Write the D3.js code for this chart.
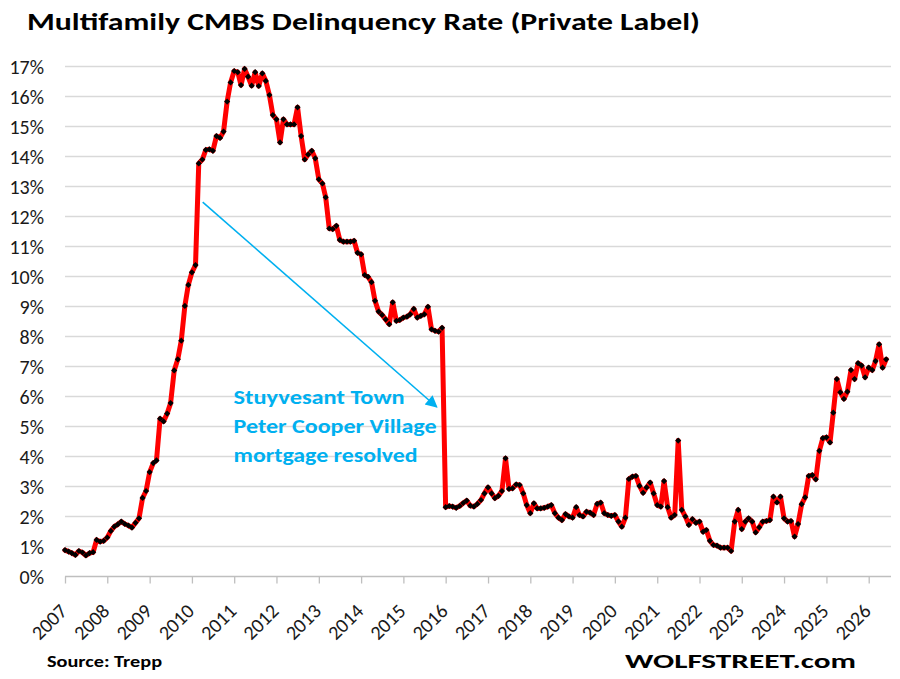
<!DOCTYPE html>
<html>
<head>
<meta charset="utf-8">
<script src="https://cdn.jsdelivr.net/npm/d3@7"></script>
<style>
  html, body { margin: 0; padding: 0; background: #fff; }
  svg { display: block; }
</style>
</head>
<body>
<svg id="chart" width="900" height="679"></svg>
<script>
// ---------------- DATA ----------------
const startYear = 2007;
const startMonth = 0; // January
const rates = [
  0.88,0.83,0.78,0.72,0.85,0.80,0.70,0.78,0.81,1.22,
  1.16,1.19,1.30,1.52,1.66,1.74,1.83,1.75,1.70,1.63,
  1.79,1.94,2.62,2.85,3.48,3.78,3.87,5.26,5.17,5.43,
  5.78,6.87,7.24,7.86,9.02,9.72,10.14,10.38,
  13.77,13.90,14.22,14.24,14.19,14.68,14.62,14.83,15.83,16.47,
  16.85,16.81,16.38,16.92,16.66,16.36,16.81,16.35,16.77,16.52,
  16.05,15.38,15.24,14.47,15.24,15.07,15.07,15.07,15.64,14.68,
  13.90,14.07,14.19,13.94,13.24,13.10,12.64,11.60,11.58,11.69,
  11.22,11.16,11.16,11.16,11.19,10.79,10.74,10.05,9.99,9.81,
  9.19,8.83,8.72,8.57,8.41,9.14,8.52,8.55,8.63,8.66,
  8.74,8.92,8.63,8.69,8.74,8.99,8.24,8.19,8.16,8.29,
  2.31,2.35,2.33,2.29,2.35,2.45,2.53,2.36,2.33,2.42,
  2.55,2.77,2.97,2.77,2.61,2.69,2.85,3.94,2.92,2.94,
  3.07,3.05,2.77,2.38,2.11,2.44,2.27,2.27,2.29,2.33,
  2.38,2.11,1.96,1.88,2.08,2.00,1.96,2.31,2.05,2.00,
  2.16,2.13,2.05,2.42,2.46,2.11,2.05,2.02,2.05,1.83,
  1.66,1.96,3.25,3.33,3.35,3.02,2.79,2.97,3.13,2.77,
  2.38,2.33,3.18,2.31,1.96,2.05,4.53,2.22,2.00,1.72,
  1.91,1.79,1.83,1.49,1.55,1.19,1.05,1.03,0.96,0.96,
  0.96,0.85,1.83,2.22,1.58,1.83,1.94,1.83,1.47,1.64,
  1.83,1.85,1.88,2.66,2.47,2.66,1.94,1.83,1.85,1.33,
  1.75,2.41,2.64,3.35,3.38,3.24,4.19,4.61,4.64,4.47,
  5.46,6.58,6.14,5.92,6.16,6.88,6.58,7.11,7.03,6.64,
  6.96,6.88,7.18,7.74,6.96,7.24
];
const yearLabels = ["2007","2008","2009","2010","2011","2012","2013","2014","2015","2016",
                    "2017","2018","2019","2020","2021","2022","2023","2024","2025","2026"];
const yTickValues = [0,1,2,3,4,5,6,7,8,9,10,11,12,13,14,15,16,17];
const titleText = "Multifamily CMBS Delinquency Rate (Private Label)";
const noteLines = ["Stuyvesant Town", "Peter Cooper Village", "mortgage resolved"];
// arrow annotation in data units: [monthIndex, percent]
const arrowStart = [39.1, 12.48];
const arrowEnd = [105.5, 5.65];
const noteAnchor = [47.9, 5.75];
const sourceText = "Source: Trepp";
const brandText = "WOLFSTREET.com";

// ---------------- CHART ----------------
const svg = d3.select("#chart");
const FONT = "Carlito, Calibri, Lato, 'Open Sans', sans-serif";

const data = rates.map((v, i) => ({ date: new Date(startYear, startMonth + i, 1), v }));

const x = d3.scaleTime()
  .domain([new Date(2007, 0, 1), new Date(2026, 0, 1)])
  .range([65, 868.7]);
const y = d3.scaleLinear().domain([0, 17]).range([576.5, 66.5]);
const monthDate = m => new Date(startYear, startMonth + Math.floor(m), 1 + (m % 1) * 30);

// gridlines
svg.append("g")
  .selectAll("line")
  .data(yTickValues.filter(d => d > 0))
  .join("line")
  .attr("x1", 65).attr("x2", 891)
  .attr("y1", d => y(d)).attr("y2", d => y(d))
  .attr("stroke", "#d9d9d9").attr("stroke-width", 1.6);

// y axis labels
const yAxis = d3.axisLeft(y).tickValues(yTickValues).tickFormat(d => d + "%").tickSize(0).tickPadding(0);
const gy = svg.append("g").attr("transform", "translate(44,0)").call(yAxis);
gy.select(".domain").remove();
gy.selectAll("text")
  .attr("font-family", FONT).attr("font-size", 20).attr("fill", "#1a1a1a")
  .attr("dy", "0.34em");

// x axis
const yearDates = yearLabels.map(s => new Date(+s, 0, 1));
const xAxis = d3.axisBottom(x).tickValues(yearDates).tickFormat(d3.timeFormat("%Y")).tickSize(7).tickSizeOuter(0);
const gx = svg.append("g").attr("transform", "translate(0,576.5)").call(xAxis);
gx.select(".domain").attr("stroke", "#bfbfbf").attr("stroke-width", 1.5)
  .attr("d", "M65,0H891");
gx.selectAll(".tick line").attr("stroke", "#bfbfbf").attr("stroke-width", 1.3);
gx.selectAll(".tick text")
  .attr("font-family", FONT).attr("font-size", 20).attr("fill", "#1a1a1a")
  .attr("text-anchor", "end")
  .attr("transform", "translate(-2,31) rotate(-45)")
  .attr("x", 0).attr("y", 0).attr("dy", "0.35em");

// line
const line = d3.line().x(d => x(d.date)).y(d => y(d.v));
svg.append("path")
  .datum(data)
  .attr("fill", "none")
  .attr("stroke", "#ff0000")
  .attr("stroke-width", 5)
  .attr("stroke-linejoin", "round")
  .attr("stroke-linecap", "round")
  .attr("d", line);

// markers
const sym = d3.symbol().type(d3.symbolSquare).size(19);
svg.append("g")
  .selectAll("path")
  .data(data)
  .join("path")
  .attr("d", sym)
  .attr("transform", d => `translate(${x(d.date)},${y(d.v)}) rotate(45)`)
  .attr("fill", "#000");

// arrow annotation
const defs = svg.append("defs");
defs.append("marker")
  .attr("id", "ah").attr("viewBox", "0 0 10 10")
  .attr("refX", 9).attr("refY", 5)
  .attr("markerWidth", 14).attr("markerHeight", 12)
  .attr("markerUnits", "userSpaceOnUse")
  .attr("orient", "auto")
  .append("path").attr("d", "M0,0 L10,5 L0,10 z").attr("fill", "#00b0f0");

svg.append("line")
  .attr("x1", x(monthDate(arrowStart[0]))).attr("y1", y(arrowStart[1]))
  .attr("x2", x(monthDate(arrowEnd[0]))).attr("y2", y(arrowEnd[1]))
  .attr("stroke", "#00b0f0").attr("stroke-width", 1.6)
  .attr("marker-end", "url(#ah)");

const noteX = x(monthDate(noteAnchor[0]));
const noteY0 = y(noteAnchor[1]);
const noteWidths = [171, 203, 184];
svg.append("g")
  .selectAll("text")
  .data(noteLines)
  .join("text")
  .attr("x", noteX)
  .attr("y", (d, i) => noteY0 + i * 29)
  .attr("font-family", FONT).attr("font-weight", "bold").attr("font-size", 21)
  .attr("fill", "#00b0f0")
  .attr("textLength", (d, i) => noteWidths[i])
  .attr("lengthAdjust", "spacingAndGlyphs")
  .text(d => d);

// title
svg.append("text")
  .attr("x", 27).attr("y", 30)
  .attr("font-family", FONT).attr("font-weight", "bold").attr("font-size", 25)
  .attr("fill", "#000")
  .attr("textLength", 673).attr("lengthAdjust", "spacingAndGlyphs")
  .text(titleText);

// footer
svg.append("text")
  .attr("x", 47).attr("y", 667)
  .attr("font-family", FONT).attr("font-weight", "bold").attr("font-size", 16)
  .attr("fill", "#000")
  .attr("textLength", 115).attr("lengthAdjust", "spacingAndGlyphs")
  .text(sourceText);
svg.append("text")
  .attr("x", 625).attr("y", 668)
  .attr("font-family", FONT).attr("font-weight", "bold").attr("font-size", 20)
  .attr("fill", "#000")
  .attr("textLength", 231).attr("lengthAdjust", "spacingAndGlyphs")
  .text(brandText);
</script>
</body>
</html>
